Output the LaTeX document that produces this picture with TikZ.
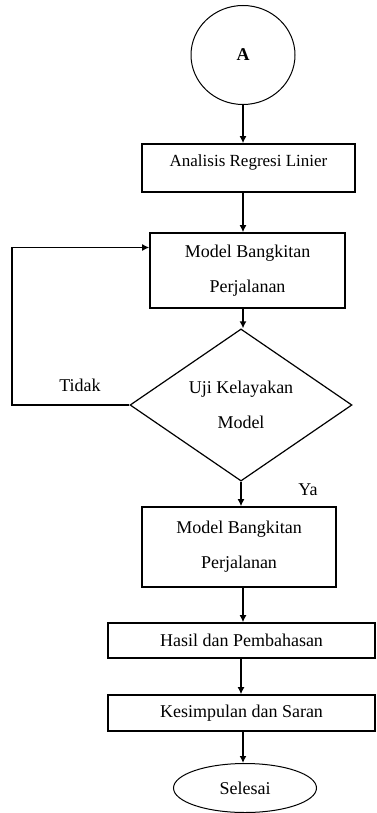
\documentclass[tikz,border=0pt]{standalone}
\usepackage{fontspec}
\setmainfont{Liberation Serif}
\usetikzlibrary{shapes.geometric,arrows.meta}
\tikzset{
  box/.style={draw, line width=1.6pt, rectangle, inner sep=0pt, align=center,
    font=\fontsize{18}{35}\selectfont},
  oval/.style={draw, line width=1pt, ellipse, inner sep=0pt},
  dec/.style={draw, line width=1.2pt, diamond, inner sep=0pt, align=center,
    font=\fontsize{18}{35}\selectfont},
  arr/.style={line width=1.6pt, -{Latex[length=7pt,width=7pt]}},
  lab/.style={font=\fontsize{18}{20}\selectfont}
}
\begin{document}
\begin{tikzpicture}[x=1pt,y=-1pt]
\useasboundingbox (0,0) rectangle (376,813);
\node[oval, minimum width=104pt, minimum height=99pt, font=\fontsize{18}{20}\selectfont\bfseries] (A) at (243,55) {A};
\node[box, minimum width=213pt, minimum height=48pt, text height=23pt, text depth=25pt, font=\fontsize{17}{20}\selectfont] (b1) at (248.5,168) {Analisis Regresi Linier};
\node[box, minimum width=195pt, minimum height=75pt] (b2) at (247.5,270.5) {Model Bangkitan\\Perjalanan};
\node[dec, minimum width=222pt, minimum height=130pt] (d) at (241,405) {Uji Kelayakan\\Model};
\node[box, minimum width=194pt, minimum height=80pt] (b3) at (239,547) {Model Bangkitan\\Perjalanan};
\node[box, minimum width=267pt, minimum height=35pt] (b4) at (241.5,640.5) {Hasil dan Pembahasan};
\node[box, minimum width=267pt, minimum height=36pt] (b5) at (241.5,713) {Kesimpulan dan Saran};
\node[oval, minimum width=143pt, minimum height=49pt, font=\fontsize{18}{20}\selectfont] (E) at (245,788) {Selesai};
\node[lab] (tidak) at (80,385) {Tidak};
\node[lab] (ya) at (308,490) {Ya};
\coordinate (lc) at (12,405);
\draw[arr] (A.south) -- (A.south |- b1.north);
\draw[arr] (b1.south -| A.south) -- (A.south |- b2.north);
\draw[arr] (b2.south -| A.south) -- (A.south |- d.north);
\draw[arr] (d.south) -- (d.south |- b3.north);
\draw[arr] (b3.south -| A.south) -- (A.south |- b4.north);
\draw[arr] (b4.south -| d.south) -- (d.south |- b5.north);
\draw[arr] (b5.south -| A.south) -- (A.south |- E.north);
\draw[arr] (d.west) -- (lc) |- ([yshift=23pt]b2.west);
\end{tikzpicture}
\end{document}
